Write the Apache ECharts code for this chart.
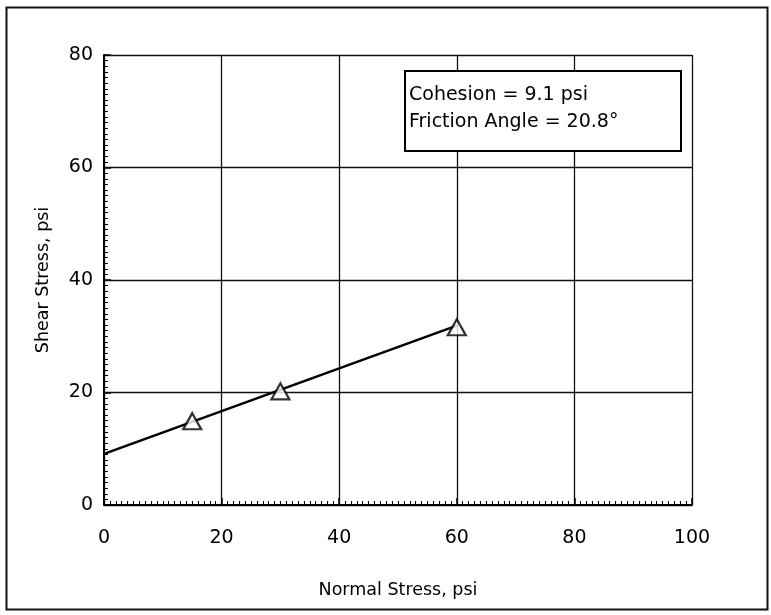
<!DOCTYPE html>
<html><head><meta charset="utf-8">
<script src="https://cdn.jsdelivr.net/npm/echarts@6/dist/echarts.min.js"></script>
<style>html,body{margin:0;padding:0;background:#fff}#c{width:771px;height:615px}</style>
</head><body><div id="c"></div>
<script>
var normalStress = [15, 30, 60];
var shearStress = [14.9, 20.2, 31.6];
var cohesion = 9.1;
var frictionAngle = 20.8;
var fitX = [0, 60];
var fitY = [9.1, 31.9];
var xTicks = [0, 20, 40, 60, 80, 100];
var yTicks = [0, 20, 40, 60, 80];

var chart = echarts.init(document.getElementById('c'));
var font = '"DejaVu Sans", Verdana, sans-serif';
chart.setOption({
  animation: false,
  backgroundColor: '#fff',
  grid: {left: 104, right: 79, top: 55, bottom: 110, show: false},
  xAxis: {
    type: 'value', min: xTicks[0], max: xTicks[xTicks.length-1], interval: 20,
    name: 'Normal Stress, psi', nameLocation: 'middle', nameGap: 76,
    nameTextStyle: {fontFamily: font, fontSize: 17.5, color: '#000'},
    axisLine: {show: true, lineStyle: {color: '#000', width: 2}},
    axisTick: {show: true, inside: true, length: 7, lineStyle: {color: '#000', width: 1.5}},
    minorTick: {show: true, splitNumber: 20, length: 4, lineStyle: {color: '#000'}},
    axisLabel: {fontFamily: font, fontSize: 19, color: '#000', margin: 24},
    splitLine: {show: true, lineStyle: {color: '#111', width: 1.3}}
  },
  yAxis: {
    type: 'value', min: yTicks[0], max: yTicks[yTicks.length-1], interval: 20,
    name: 'Shear Stress, psi', nameLocation: 'middle', nameGap: 52,
    nameTextStyle: {fontFamily: font, fontSize: 17.5, color: '#000'},
    axisLine: {show: true, lineStyle: {color: '#000', width: 2}},
    axisTick: {show: true, inside: true, length: 7, lineStyle: {color: '#000', width: 1.5}},
    minorTick: {show: true, splitNumber: 20, length: 4, lineStyle: {color: '#000'}},
    axisLabel: {fontFamily: font, fontSize: 19, color: '#000', margin: 11},
    splitLine: {show: true, lineStyle: {color: '#111', width: 1.3}}
  },
  graphic: [
    {type: 'rect', left: 4, top: 5, shape: {width: 761, height: 602}, style: {fill: 'none', stroke: '#111', lineWidth: 2}, z: 100},
    {type: 'rect', left: 404, top: 70, shape: {width: 276, height: 80}, style: {fill: '#fff', stroke: '#000', lineWidth: 2}, z: 100},
    {type: 'text', left: 409, top: 86, style: {text: 'Cohesion = ' + cohesion + ' psi', font: '19px ' + font, fill: '#000'}, z: 101},
    {type: 'text', left: 409, top: 113, style: {text: 'Friction Angle = ' + frictionAngle + '°', font: '19px ' + font, fill: '#000'}, z: 101}
  ],
  series: [
    {type: 'line', data: fitX.map(function(x,i){return [x, fitY[i]];}), symbol: 'none',
     lineStyle: {color: '#000', width: 2.5}, z: 3},
    {type: 'scatter', data: normalStress.map(function(x,i){return [x, shearStress[i]];}),
     symbol: 'triangle', symbolSize: [18, 16],
     itemStyle: {color: '#fff', borderColor: '#000', borderWidth: 2.2}, z: 4}
  ]
});
</script></body></html>
